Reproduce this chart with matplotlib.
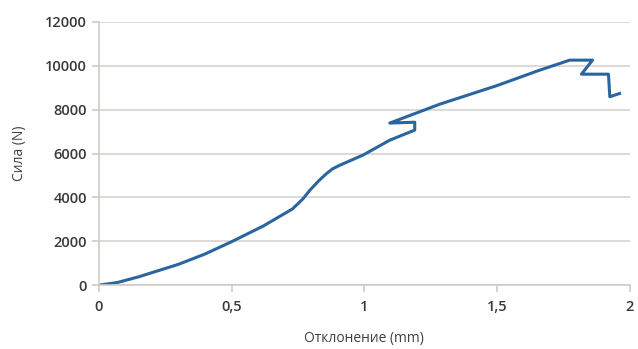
import matplotlib.pyplot as plt
from matplotlib.ticker import FuncFormatter

# Отклонение (mm) и сила (N)
deflection = [0.0, 0.07, 0.15, 0.3, 0.4, 0.5, 0.62, 0.73, 0.77, 0.795,
              0.83, 0.858, 0.88, 0.908, 0.995, 1.096, 1.19, 1.19, 1.096, 1.284,
              1.5, 1.66, 1.774, 1.86, 1.818, 1.92, 1.925, 1.962]
force = [0, 120, 380, 950, 1420, 1980, 2700, 3480, 3950, 4330,
         4780, 5090, 5300, 5470, 5930, 6610, 7070, 7430, 7390, 8250,
         9100, 9800, 10260, 10260, 9620, 9620, 8590, 8740]

xticks = [0, 0.5, 1, 1.5, 2]
yticks = [0, 2000, 4000, 6000, 8000, 10000, 12000]

plt.rcParams['font.family'] = ['Open Sans', 'DejaVu Sans']

fig = plt.figure(figsize=(6.38, 3.49), dpi=100)
ax = fig.add_axes([0.155, 0.183, 0.832, 0.754])

ax.plot(deflection, force, color='#2b65a0', linewidth=2.2, solid_joinstyle='round')

ax.set_xlim(0, 2)
ax.set_ylim(0, 12000)
ax.set_xticks(xticks)
ax.set_yticks(yticks)
ax.xaxis.set_major_formatter(FuncFormatter(lambda v, p: ('%g' % v).replace('.', ',')))
ax.grid(axis='y', color='#d8d3cf', linewidth=1.2)
ax.set_axisbelow(True)

for s in ['top', 'right']:
    ax.spines[s].set_visible(False)
ax.spines['left'].set_color('#d0cbc7')
ax.spines['bottom'].set_color('#d0cbc7')
ax.spines['left'].set_linewidth(1.2)
ax.spines['bottom'].set_linewidth(1.2)
ax.tick_params(axis='both', colors='#d0cbc7', labelcolor='#3a3a3a', labelsize=10.5,
               length=5, width=1.2, direction='out')
ax.tick_params(axis='x', pad=6)
for lbl in ax.get_xticklabels() + ax.get_yticklabels():
    lbl.set_fontweight('semibold')

ax.set_xlabel('Отклонение (mm)', fontsize=10, color='#404040', labelpad=12)
ax.set_ylabel('Сила (N)', fontsize=10, color='#404040', labelpad=13)

fig.savefig('out.png', dpi=100)
